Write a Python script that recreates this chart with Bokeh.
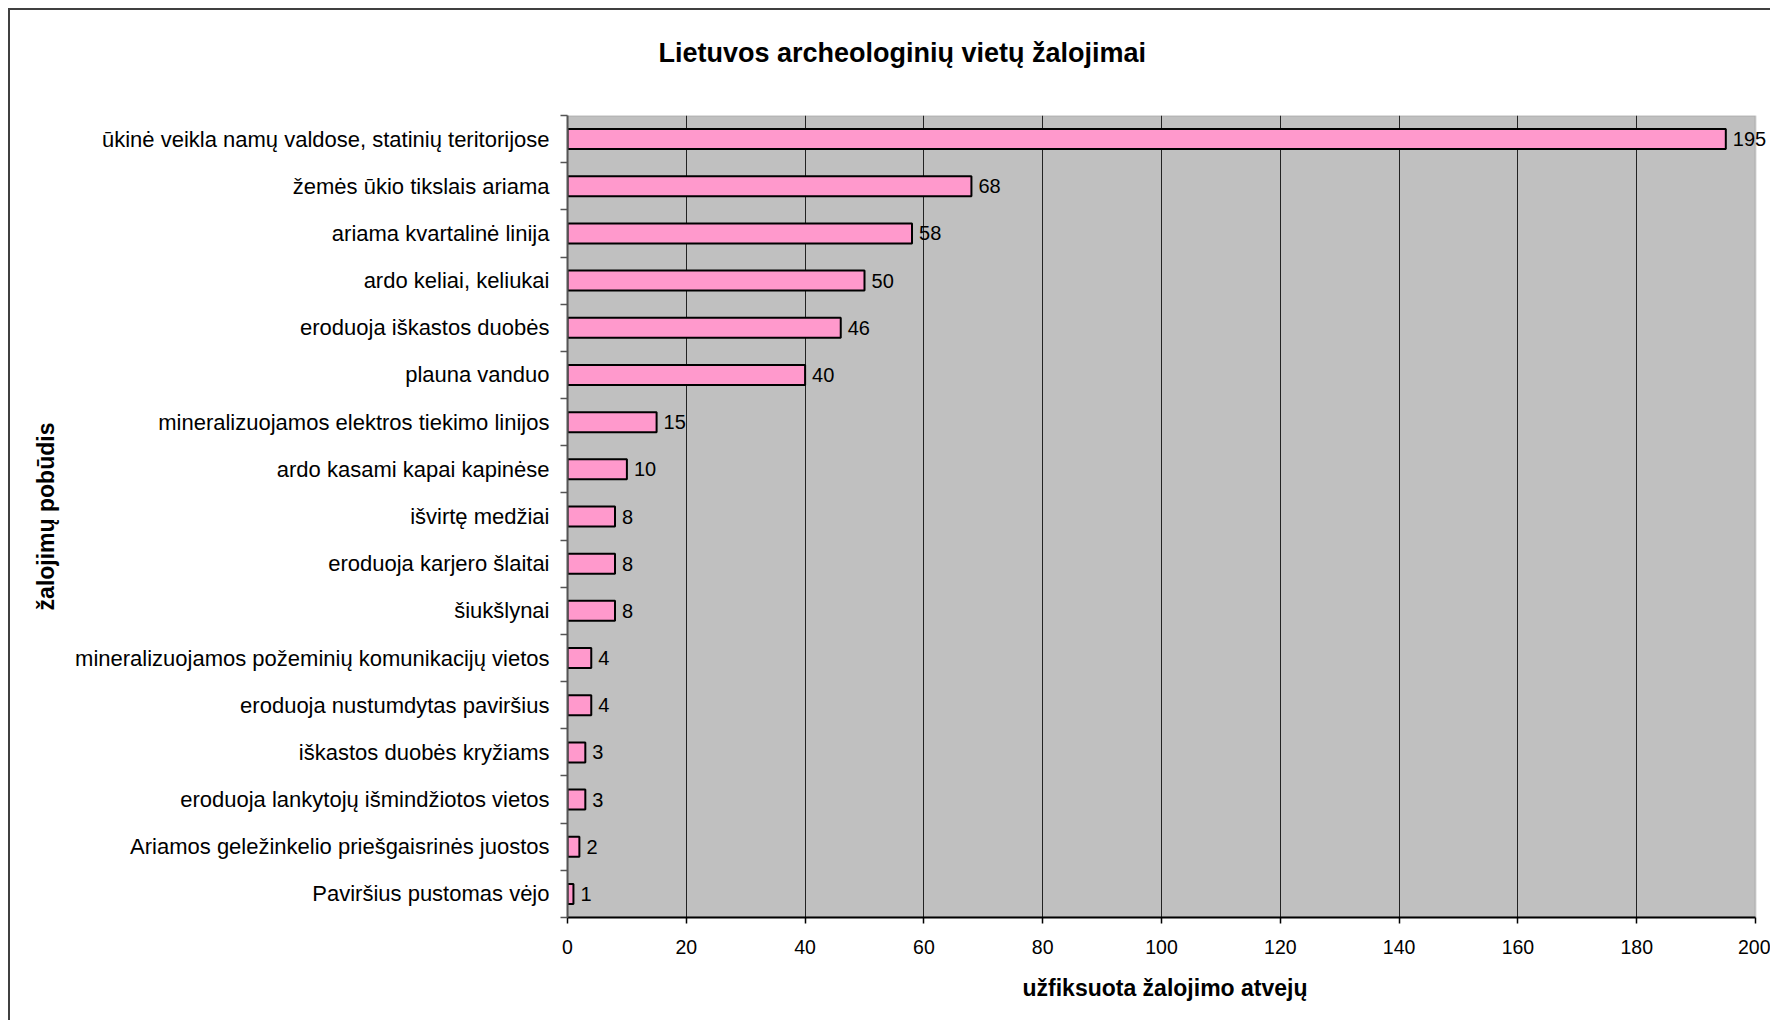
from bokeh.plotting import figure
from bokeh.models import ColumnDataSource, Range1d, FixedTicker, Label, Title, BoxAnnotation
from bokeh.embed import file_html
from bokeh.resources import INLINE

categories = [
    "ūkinė veikla namų valdose, statinių teritorijose",
    "žemės ūkio tikslais ariama",
    "ariama kvartalinė linija",
    "ardo keliai, keliukai",
    "eroduoja iškastos duobės",
    "plauna vanduo",
    "mineralizuojamos elektros tiekimo linijos",
    "ardo kasami kapai kapinėse",
    "išvirtę medžiai",
    "eroduoja karjero šlaitai",
    "šiukšlynai",
    "mineralizuojamos požeminių komunikacijų vietos",
    "eroduoja nustumdytas paviršius",
    "iškastos duobės kryžiams",
    "eroduoja lankytojų išmindžiotos vietos",
    "Ariamos geležinkelio priešgaisrinės juostos",
    "Paviršius pustomas vėjo",
]
values = [195, 68, 58, 50, 46, 40, 15, 10, 8, 8, 8, 4, 4, 3, 3, 2, 1]
x_ticks = [0, 20, 40, 60, 80, 100, 120, 140, 160, 180, 200]

title_text = "Lietuvos archeologinių vietų žalojimai"
x_title = "užfiksuota žalojimo atvejų"
y_title = "žalojimų pobūdis"

FONT = "Liberation Sans"
n = len(categories)
pos = list(range(n))
x_min, x_max = x_ticks[0], x_ticks[-1]

source = ColumnDataSource(dict(y=pos, v=values))

# the frame runs a little past the axis end so the "195" label is not clipped;
# the grey plot area itself is limited to 0..200 below
p = figure(
    width=1762, height=1012,
    x_range=Range1d(x_min, 202.86),
    y_range=Range1d(n - 0.5, -0.5),
    output_backend="svg", toolbar_location=None,
    min_border_left=557, min_border_top=105, min_border_right=0, min_border_bottom=105,
    title=None,
)
p.styles = {"margin-left": "8px", "margin-top": "8px",
            "border-left": "2px solid #404040", "border-top": "2px solid #404040"}

p.background_fill_color = "white"
p.border_fill_color = "white"
p.outline_line_color = None

plot_area = BoxAnnotation(left=x_min, right=x_max, fill_color="#C0C0C0", fill_alpha=1.0,
                          line_color="#808080", line_width=2, level="image")
p.add_layout(plot_area)

p.hbar(y="y", right="v", left=0, height=0.424, source=source,
       fill_color="#FF99CC", line_color="black", line_width=2)

for yi, v in zip(pos, values):
    p.add_layout(Label(x=v, y=yi, text=str(v), x_offset=7,
                       text_baseline="middle", text_align="left",
                       text_font=FONT, text_font_size="20px",
                       text_color="black"))

# spacer panel between frame and title (closest to the frame), then the title
p.add_layout(Title(text=" ", text_font_size="1px", standoff=40), "above")
p.add_layout(Title(text=title_text, align="left", offset=91, standoff=10,
                   text_font=FONT, text_font_size="27px", text_font_style="bold",
                   text_color="black"), "above")

# x axis
xa = p.xaxis[0]
xa.bounds = (x_min, x_max)
xa.ticker = FixedTicker(ticks=x_ticks)
xa.axis_line_color = "black"
xa.axis_line_width = 2
xa.major_tick_out = 6
xa.major_tick_in = 0
xa.minor_tick_line_color = None
xa.major_tick_line_color = "black"
xa.major_tick_line_width = 1.5
xa.major_label_standoff = 16
xa.major_label_text_font = FONT
xa.major_label_text_font_size = "19.5px"
xa.major_label_text_color = "black"

# x axis title, centred under the 0..200 axis
p.add_layout(Title(text=x_title, align="left", offset=455, standoff=33,
                   text_font=FONT, text_font_size="23px", text_font_style="bold",
                   text_color="black"), "below")

# y axis
ya = p.yaxis[0]
ya.ticker = FixedTicker(ticks=pos, minor_ticks=[i - 0.5 for i in range(n + 1)])
ya.major_label_overrides = {i: c for i, c in zip(pos, categories)}
ya.major_tick_out = 0
ya.major_tick_in = 0
ya.major_tick_line_color = None
ya.minor_tick_out = 7
ya.minor_tick_in = 0
ya.minor_tick_line_color = "#555555"
ya.minor_tick_line_width = 1.5
ya.axis_line_color = "#555555"
ya.axis_line_width = 2
ya.major_label_standoff = 11
ya.major_label_text_font = FONT
ya.major_label_text_font_size = "22px"
ya.major_label_text_color = "black"
ya.axis_label = y_title
ya.axis_label_text_font = FONT
ya.axis_label_text_font_size = "23px"
ya.axis_label_text_font_style = "bold"
ya.axis_label_text_color = "black"
ya.axis_label_standoff = 13

p.ygrid.grid_line_color = None
p.xgrid.ticker = FixedTicker(ticks=x_ticks[1:-1])
p.xgrid.grid_line_color = "#222222"
p.xgrid.grid_line_width = 1

open("out.html", "w").write(file_html(p, INLINE))
